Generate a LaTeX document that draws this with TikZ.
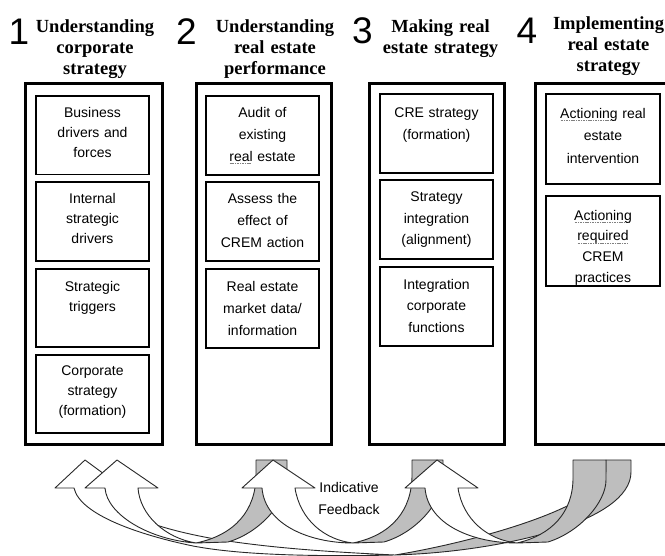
\documentclass[tikz,border=0pt]{standalone}
\usepackage{fontspec}
\setmainfont{Liberation Serif}
\setsansfont{Liberation Sans}
\newsavebox\sqbox
\newcommand\squig[1]{\sbox\sqbox{#1}\leavevmode\rlap{\raisebox{-2.8pt}{\hbox to \wd\sqbox{\color{gray}\leaders\hbox{\kern0.3pt\rule{1.1pt}{0.6pt}\kern0.3pt}\hfill}}}\usebox\sqbox}
\definecolor{bandgray}{RGB}{190,190,190}
\definecolor{edge}{RGB}{40,40,40}
\begin{document}
\begin{tikzpicture}[x=1pt,y=-1pt,
  obox/.style={draw=black, line width=3pt, inner sep=0pt},
  ibox/.style={draw=black, line width=1.8pt, inner sep=0pt},
  itext/.style={font=\sffamily\fontsize{14}{#1}\selectfont, text width=112pt, align=center, anchor=north, inner sep=0pt},
  htext/.style={font=\rmfamily\bfseries\fontsize{18.5}{21}\selectfont, text width=135pt, align=center, anchor=north, inner sep=0pt},
  num/.style={font=\sffamily\fontsize{37}{37}\selectfont, anchor=base west, inner sep=0pt},
  band/.style={draw=edge, line width=0.9pt, line join=round},
  back/.style={band, fill=bandgray},
  front/.style={band, fill=white}]
\useasboundingbox (0,0) rectangle (665,556);
\clip (0,0) rectangle (665,556);

% headers
\node[num] (n1) at (8.5,45) {1};
\node[num] (n2) at (176,45) {2};
\node[num] (n3) at (352,43.5) {3};
\node[num] (n4) at (516.5,43.3) {4};
\node[htext] (h1) at (95,19.2) {Understanding\\corporate\\strategy};
\node[htext] (h2) at (275,19.2) {Understanding\\real estate\\performance};
\node[htext] (h3) at (440.5,19.2) {Making real\\estate strategy};
\node[htext] (h4) at (608.5,16.8) {Implementing\\real estate\\strategy};

% outer columns
\node[obox, minimum width=136.5pt, minimum height=361pt] (c1) at (93.75,264.5) {};
\node[obox, minimum width=135pt, minimum height=361pt] (c2) at (264,264.5) {};
\node[obox, minimum width=135pt, minimum height=361pt] (c3) at (436.5,264.5) {};
\node[obox, minimum width=164.5pt, minimum height=361pt] (c4) at (617.75,264.5) {};

% inner boxes column 1
\node[ibox, minimum width=113pt, minimum height=78.5pt] (b1a) at (92.5,135.25) {};
\node[ibox, minimum width=113pt, minimum height=79pt] (b1b) at (92.5,221.5) {};
\node[ibox, minimum width=113pt, minimum height=78pt] (b1c) at (92.5,308) {};
\node[ibox, minimum width=113pt, minimum height=78pt] (b1d) at (92.5,394) {};
\node[itext=20] (t1a) at (92.5,106.7) {Business\\drivers and\\forces};
\node[itext=20] (t1b) at (92.5,192.7) {Internal\\strategic\\drivers};
\node[itext=20] (t1c) at (92.5,280.7) {Strategic\\triggers};
\node[itext=20] (t1d) at (92.5,365.7) {Corporate\\strategy\\(formation)};

% column 2
\node[ibox, minimum width=113pt, minimum height=79pt] (b2a) at (262.5,135.5) {};
\node[ibox, minimum width=113pt, minimum height=79pt] (b2b) at (262.5,221.5) {};
\node[ibox, minimum width=113pt, minimum height=79pt] (b2c) at (262.5,308.5) {};
\node[itext=22] (t2a) at (262.5,106.7) {Audit of\\existing\\\squig{real} estate};
\node[itext=22] (t2b) at (262.5,192.7) {Assess the\\effect of\\CREM action};
\node[itext=22] (t2c) at (262.5,280.7) {Real estate\\market data/\\information};

% column 3
\node[ibox, minimum width=113pt, minimum height=79pt] (b3a) at (436.5,133.5) {};
\node[ibox, minimum width=113pt, minimum height=79pt] (b3b) at (436.5,219.5) {};
\node[ibox, minimum width=113pt, minimum height=79pt] (b3c) at (436.5,306.5) {};
\node[itext=21.5] (t3a) at (436.5,107.7) {CRE strategy\\(formation)};
\node[itext=21.5] (t3b) at (436.5,191.7) {Strategy\\integration\\(alignment)};
\node[itext=21.5] (t3c) at (436.5,278.7) {Integration\\corporate\\functions};

% column 4
\node[ibox, minimum width=114pt, minimum height=90pt] (b4a) at (603,139) {};
\node[ibox, minimum width=114pt, minimum height=90pt] (b4b) at (603,241) {};
\node[itext=22.5] (t4a) at (603,107.7) {\squig{Actioning} real\\estate\\intervention};
\node[itext=20.7] (t4b) at (603,209.7) {\squig{Actioning}\\\squig{required}\\CREM\\practices};

% feedback arrows
\coordinate (pA) at (395,555);
\coordinate (pB) at (196,543);
\coordinate (pC) at (353,543);
\coordinate (pD) at (517,543);

% A: 4 -> 1 (long)
\path[back] (606,460) -- (631,460) -- (631,472) .. controls (631,522) and (500,552) .. (pA)
  .. controls (480,541) and (606,505) .. (606,470) -- cycle;
\path[front] (pA) .. controls (300,557) and (235,554) .. (193,546) .. controls (140,535) and (80,515) .. (74,488)
  -- (55,488) -- (85,460) -- (123,488) -- (105,488)
  .. controls (110,515) and (165,530) .. (215,539) .. controls (270,548) and (330,552) .. (pA) -- cycle;

% B: 2 -> 1
\path[back] (256,460) -- (287,460) -- (287,478) .. controls (287,500) and (262,532) .. (228,542)
  -- (pB) .. controls (235,535) and (256,510) .. (256,475) -- cycle;
\path[front] (pB) .. controls (150,540) and (107,515) .. (105,488) -- (85,488) -- (117,460) -- (158,488) -- (138,488)
  .. controls (140,515) and (165,538) .. (pB) -- cycle;

% C: 3 -> 2
\path[back] (412,460) -- (443,460) -- (443,478) .. controls (443,500) and (418,532) .. (384,542)
  -- (pC) .. controls (392,535) and (412,510) .. (412,475) -- cycle;
\path[front] (pC) .. controls (310,543) and (265,525) .. (262,488) -- (242,488) -- (273,460) -- (315,488) -- (295,488)
  .. controls (300,520) and (325,540) .. (pC) -- cycle;

% D: 4 -> 3
\path[back] (573,460) -- (606,460) -- (606,480) .. controls (606,502) and (580,532) .. (548,542)
  -- (pD) .. controls (552,535) and (573,512) .. (573,478) -- cycle;
\path[front] (pD) .. controls (473,543) and (428,525) .. (425,488) -- (405,488) -- (437,460) -- (478,488) -- (458,488)
  .. controls (463,520) and (488,540) .. (pD) -- cycle;

\node[font=\sffamily\fontsize{14}{22}\selectfont, align=center, anchor=north, inner sep=0pt] (fb) at (349,481.7) {Indicative\\Feedback};
\end{tikzpicture}
\end{document}
